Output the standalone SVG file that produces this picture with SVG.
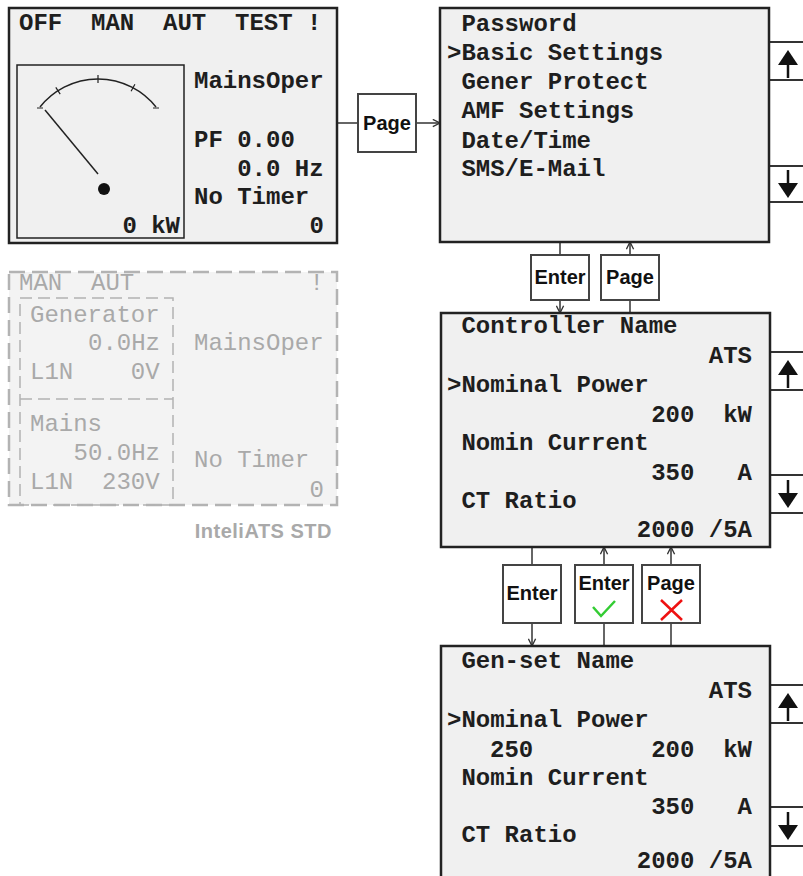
<svg xmlns="http://www.w3.org/2000/svg" width="803" height="876" viewBox="0 0 803 876">
<style>
.panel{fill:#f0f0f0;stroke:#222;stroke-width:2.5}
.lcd{font-family:"Liberation Mono","Courier New",monospace;font-size:24px;font-weight:bold;fill:#1e1e1e;white-space:pre}
.gtx{font-family:"Liberation Mono","Courier New",monospace;font-size:24px;fill:#a9a9a9;white-space:pre}
.r{text-anchor:end}
.btn{fill:#fff;stroke:#444;stroke-width:2}
.btxt{font-family:"Liberation Sans",Arial,sans-serif;font-size:20px;font-weight:bold;fill:#111;text-anchor:middle}
.conn{stroke:#333;stroke-width:1.5;fill:none}
.side{fill:#fff;stroke:#333;stroke-width:2}
.arr{fill:#111;stroke:#111}
</style>
<defs>
<marker id="chev" viewBox="0 0 10 10" refX="10" refY="5" markerWidth="9" markerHeight="9" orient="auto" markerUnits="userSpaceOnUse">
<path d="M2,1 L10,5 L2,9" fill="none" stroke="#333" stroke-width="1.5"/>
</marker>
<g id="upA" class="arr"><path d="M0,0 L-10,15 L10,15 Z" stroke="none"/><line x1="0" y1="14" x2="0" y2="28" stroke-width="2.5"/></g>
<g id="dnA" class="arr"><path d="M0,28 L-10,13 L10,13 Z" stroke="none"/><line x1="0" y1="0" x2="0" y2="14" stroke-width="2.5"/></g>
</defs>

<g id="connectors">
<path class="conn" d="M338,123 H358"/>
<path class="conn" d="M416,123 H440" marker-end="url(#chev)"/>
<path class="conn" d="M560,242 V255"/>
<path class="conn" d="M560,300 V313" marker-end="url(#chev)"/>
<path class="conn" d="M630,313 V300"/>
<path class="conn" d="M630,255 V242" marker-end="url(#chev)"/>
<path class="conn" d="M532,547 V565"/>
<path class="conn" d="M532,623 V646" marker-end="url(#chev)"/>
<path class="conn" d="M604,646 V623"/>
<path class="conn" d="M604,565 V547" marker-end="url(#chev)"/>
<path class="conn" d="M671,646 V623"/>
<path class="conn" d="M671,565 V547" marker-end="url(#chev)"/>
</g>

<g id="mainScreen">
<rect class="panel" x="9" y="8" width="328" height="235"/>
<rect x="17" y="65" width="167" height="173" fill="none" stroke="#222" stroke-width="1.5"/>
<path d="M40,107 A74,74 0 0 1 156,107" fill="none" stroke="#222" stroke-width="1.5"/>
<path d="M37,108 H43 M153,108 H159 M98,75 V83 M55.8,87.3 L60.2,94.1 M134.9,84.3 L131.1,91.3" stroke="#222" stroke-width="1.2"/>
<line x1="45" y1="110" x2="98" y2="174" stroke="#222" stroke-width="1.5"/>
<circle cx="104" cy="189" r="6" fill="#111"/>
<text class="lcd" x="19" y="30">OFF  MAN  AUT  TEST !</text>
<text class="lcd" x="194" y="88">MainsOper</text>
<text class="lcd" x="194" y="147">PF 0.00</text>
<text class="lcd" x="194" y="176">   0.0 Hz</text>
<text class="lcd" x="194" y="204">No Timer</text>
<text class="lcd r" x="324" y="233">0</text>
<text class="lcd r" x="180" y="233">0 kW</text>
</g>

<g id="intelliATS">
<rect x="9" y="272" width="328" height="233" fill="#f3f3f3" stroke="#b3b3b3" stroke-width="2.5" stroke-dasharray="16 7"/>
<rect x="20" y="298" width="153" height="207" fill="none" stroke="#b3b3b3" stroke-width="1.5" stroke-dasharray="12 6"/>
<line x1="20" y1="399" x2="173" y2="399" stroke="#b3b3b3" stroke-width="1.5" stroke-dasharray="12 6"/>
<text class="gtx" x="19" y="290">MAN  AUT</text>
<text class="gtx r" x="324" y="290">!</text>
<text class="gtx" x="30" y="322">Generator</text>
<text class="gtx r" x="160" y="350">0.0Hz</text>
<text class="gtx" x="30" y="379">L1N    0V</text>
<text class="gtx" x="30" y="431">Mains</text>
<text class="gtx r" x="160" y="460">50.0Hz</text>
<text class="gtx" x="30" y="489">L1N  230V</text>
<text class="gtx" x="194" y="350">MainsOper</text>
<text class="gtx" x="194" y="467">No Timer</text>
<text class="gtx r" x="324" y="497">0</text>
<text x="332" y="538" text-anchor="end" font-family="Liberation Sans, Arial, sans-serif" font-size="20" font-weight="bold" letter-spacing="0.5" fill="#a9a9a9">InteliATS STD</text>
</g>

<g id="btnPage1">
<rect class="btn" x="358" y="94" width="58" height="58"/>
<text class="btxt" x="387" y="130">Page</text>
</g>

<g id="menuScreen">
<rect class="side" x="769" y="42" width="45" height="38"/>
<rect class="side" x="769" y="166" width="45" height="36"/>
<use href="#upA" x="788" y="50"/>
<use href="#dnA" x="788" y="170"/>
<rect class="panel" x="440" y="8" width="329" height="234"/>
<text class="lcd" x="447" y="31"> Password</text>
<text class="lcd" x="447" y="60">&gt;Basic Settings</text>
<text class="lcd" x="447" y="89"> Gener Protect</text>
<text class="lcd" x="447" y="118"> AMF Settings</text>
<text class="lcd" x="447" y="148"> Date/Time</text>
<text class="lcd" x="447" y="176"> SMS/E-Mail</text>
</g>

<g id="btnEnter1">
<rect class="btn" x="531" y="255" width="58" height="45"/>
<text class="btxt" x="560" y="284">Enter</text>
</g>
<g id="btnPage2">
<rect class="btn" x="601" y="255" width="58" height="45"/>
<text class="btxt" x="630" y="284">Page</text>
</g>

<g id="basicSettings">
<rect class="side" x="770" y="352" width="45" height="38"/>
<rect class="side" x="770" y="475" width="45" height="38"/>
<use href="#upA" x="788" y="360"/>
<use href="#dnA" x="788" y="480"/>
<rect class="panel" x="441" y="313" width="329" height="234"/>
<text class="lcd" x="447" y="333"> Controller Name</text>
<text class="lcd r" x="752" y="363">ATS</text>
<text class="lcd" x="447" y="392">&gt;Nominal Power</text>
<text class="lcd r" x="752" y="422">200  kW</text>
<text class="lcd" x="447" y="450"> Nomin Current</text>
<text class="lcd r" x="752" y="480">350   A</text>
<text class="lcd" x="447" y="508"> CT Ratio</text>
<text class="lcd r" x="752" y="537">2000 /5A</text>
</g>

<g id="btnEnter2">
<rect class="btn" x="503" y="565" width="58" height="58"/>
<text class="btxt" x="532" y="600">Enter</text>
</g>
<g id="btnEnterOk">
<rect class="btn" x="575" y="565" width="58" height="58"/>
<text class="btxt" x="604" y="590">Enter</text>
<path d="M593,607 L601,616 L615,601" fill="none" stroke="#3c3" stroke-width="2.5"/>
</g>
<g id="btnPageCancel">
<rect class="btn" x="642" y="565" width="58" height="58"/>
<text class="btxt" x="671" y="590">Page</text>
<path d="M661,600 L682,620 M682,600 L661,620" fill="none" stroke="#e11" stroke-width="2.5"/>
</g>

<g id="editScreen">
<rect class="side" x="770" y="685" width="45" height="38"/>
<rect class="side" x="770" y="807" width="45" height="39"/>
<use href="#upA" x="788" y="693"/>
<use href="#dnA" x="788" y="812"/>
<rect class="panel" x="441" y="646" width="329" height="245"/>
<text class="lcd" x="447" y="668"> Gen-set Name</text>
<text class="lcd r" x="752" y="698">ATS</text>
<text class="lcd" x="447" y="727">&gt;Nominal Power</text>
<text class="lcd" x="490" y="757">250</text>
<text class="lcd r" x="752" y="757">200  kW</text>
<text class="lcd" x="447" y="785"> Nomin Current</text>
<text class="lcd r" x="752" y="814">350   A</text>
<text class="lcd" x="447" y="842"> CT Ratio</text>
<text class="lcd r" x="752" y="868">2000 /5A</text>
</g>
</svg>
